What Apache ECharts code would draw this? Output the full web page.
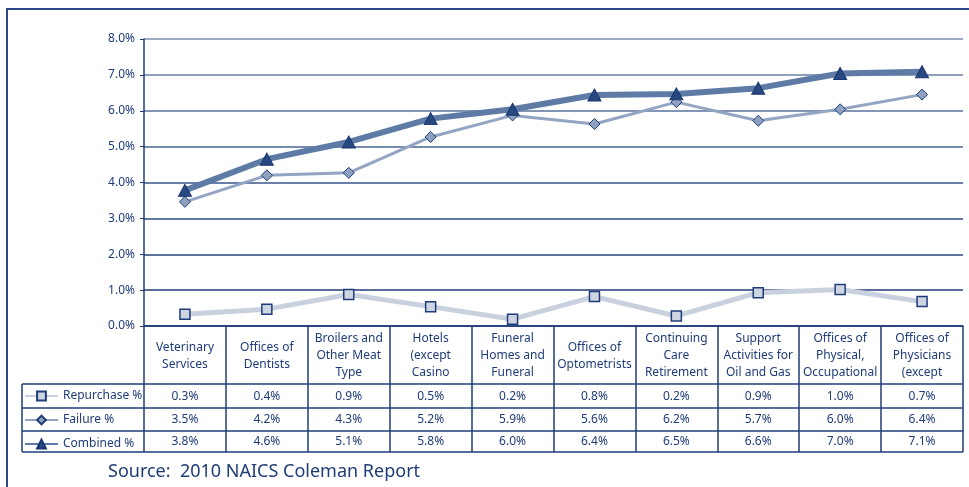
<!DOCTYPE html>
<html>
<head>
<meta charset="utf-8">
<style>
  html, body { margin: 0; padding: 0; background: #fff; }
  #chart { width: 969px; height: 487px; }
</style>
<script src="https://cdn.jsdelivr.net/npm/echarts@6/dist/echarts.min.js"></script>
</head>
<body>
<div id="chart"></div>
<script>
// categories (header row of the data table)
const categories = [
  'Veterinary\nServices', 'Offices of\nDentists', 'Broilers and\nOther Meat\nType',
  'Hotels\n(except\nCasino', 'Funeral\nHomes and\nFuneral', 'Offices of\nOptometrists',
  'Continuing\nCare\nRetirement', 'Support\nActivities for\nOil and Gas',
  'Offices of\nPhysical,\nOccupational', 'Offices of\nPhysicians\n(except'
];
// plotted values, percent
const repurchase = [0.33, 0.47, 0.88, 0.54, 0.19, 0.82, 0.28, 0.93, 1.02, 0.68];
const failure    = [3.46, 4.20, 4.27, 5.27, 5.87, 5.63, 6.24, 5.72, 6.04, 6.45];
const combined   = [3.78, 4.65, 5.13, 5.78, 6.04, 6.44, 6.47, 6.63, 7.04, 7.09];
// rounded values printed in the data table
const tableRepurchase = ['0.3%', '0.4%', '0.9%', '0.5%', '0.2%', '0.8%', '0.2%', '0.9%', '1.0%', '0.7%'];
const tableFailure    = ['3.5%', '4.2%', '4.3%', '5.2%', '5.9%', '5.6%', '6.2%', '5.7%', '6.0%', '6.4%'];
const tableCombined   = ['3.8%', '4.6%', '5.1%', '5.8%', '6.0%', '6.4%', '6.5%', '6.6%', '7.0%', '7.1%'];
const yTicks = [0, 1, 2, 3, 4, 5, 6, 7, 8];

const navy = '#1f3c78';
const font = 'Noto Sans';

let myChart = echarts.init(document.getElementById('chart'));

// extra x axes that only print one table row each
function rowAxis(data, margin) {
  return {
    type: 'category', data: data, position: 'bottom', boundaryGap: true,
    axisLine: { show: false }, axisTick: { show: false }, splitLine: { show: false },
    axisLabel: { margin: margin, verticalAlign: 'middle', color: navy, fontSize: 12, fontFamily: font, interval: 0 }
  };
}

function tableLine(y) {
  return { type: 'line', shape: { x1: 22, y1: y, x2: 963, y2: y }, style: { stroke: navy, lineWidth: 1.5 } };
}

myChart.setOption({
  animation: false,
  textStyle: { fontFamily: font },
  grid: { left: 144, right: 6, top: 39, bottom: 161 },
  legend: {
    orient: 'vertical', left: 24, top: 390, padding: 0,
    itemWidth: 33, itemHeight: 11, itemGap: 12,
    textStyle: { color: navy, fontSize: 12, fontFamily: font },
    data: ['Repurchase %', 'Failure %', 'Combined %']
  },
  xAxis: [
    {
      type: 'category', data: categories, boundaryGap: true,
      axisLine: { lineStyle: { color: navy, width: 1.5 } },
      axisTick: { show: true, length: 126, lineStyle: { color: navy, width: 1.5 } },
      axisLabel: { margin: 30, verticalAlign: 'middle', lineHeight: 17, color: navy, fontSize: 12, fontFamily: font, interval: 0 }
    },
    rowAxis(tableRepurchase, 71),
    rowAxis(tableFailure, 94),
    rowAxis(tableCombined, 116)
  ],
  yAxis: {
    type: 'value', min: yTicks[0], max: yTicks[yTicks.length - 1], interval: 1,
    axisLine: { show: true, lineStyle: { color: navy, width: 1.5 } },
    axisTick: { show: true, length: 4, lineStyle: { color: navy } },
    axisLabel: { formatter: v => v.toFixed(1) + '%', color: navy, fontSize: 12, fontFamily: font, margin: 9 },
    splitLine: { lineStyle: { color: ['#1a356e', '#203d76', '#27457e', '#2f4d85', '#3a568c', '#4a6494', '#5a729d', '#6a80a7', '#7b8fb1'], width: 1.5 } }
  },
  series: [
    {
      name: 'Repurchase %', type: 'line', data: repurchase,
      symbol: 'rect', symbolSize: 10,
      lineStyle: { color: '#c9d1df', width: 5 },
      itemStyle: { color: '#cdd5e3', borderColor: navy, borderWidth: 1.5 }
    },
    {
      name: 'Failure %', type: 'line', data: failure,
      symbol: 'diamond', symbolSize: 11,
      lineStyle: { color: '#93a5c2', width: 3 },
      itemStyle: { color: '#8ea1c0', borderColor: navy, borderWidth: 1 }
    },
    {
      name: 'Combined %', type: 'line', data: combined,
      symbol: 'triangle', symbolSize: [13, 12],
      lineStyle: { color: '#5e7ba6', width: 6 },
      itemStyle: { color: '#27497f', borderColor: '#1a3670', borderWidth: 1 }
    }
  ],
  graphic: [
    // outer frame
    { type: 'rect', shape: { x: 7, y: 9, width: 980, height: 500 }, style: { fill: null, stroke: '#2a4884', lineWidth: 2 }, silent: true },
    // data table rules
    tableLine(384), tableLine(408), tableLine(431), tableLine(452),
    { type: 'line', shape: { x1: 22, y1: 384, x2: 22, y2: 452 }, style: { stroke: navy, lineWidth: 1.5 } },
    {
      type: 'text', left: 108, top: 463,
      style: { text: 'Source:  2010 NAICS Coleman Report', fill: navy, fontSize: 18, fontFamily: font }
    }
  ]
});
</script>
</body>
</html>
